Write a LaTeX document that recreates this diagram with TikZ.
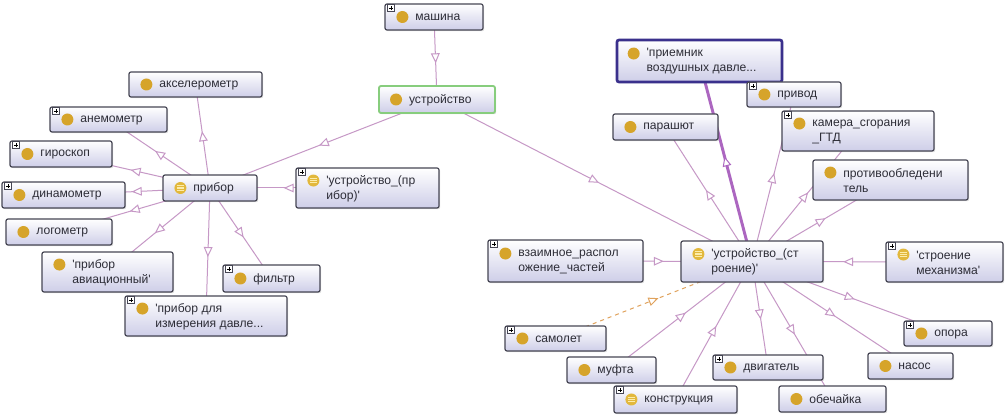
\documentclass[tikz,border=0pt]{standalone}
\usepackage{fontspec}
\setmainfont{Liberation Sans}
\usetikzlibrary{arrows.meta,decorations.markings,shadows}
\definecolor{edgecol}{RGB}{198,152,198}
\definecolor{thickcol}{RGB}{172,102,192}
\definecolor{dashcol}{RGB}{224,162,92}
\definecolor{boxline}{RGB}{70,70,84}
\definecolor{boxbot}{RGB}{206,206,232}
\definecolor{txtcol}{RGB}{45,45,55}
\definecolor{iconcol}{RGB}{214,164,42}
\definecolor{eqcol}{RGB}{226,184,60}
\definecolor{eqline}{RGB}{252,236,170}
\definecolor{greenb}{RGB}{135,205,125}
\definecolor{selb}{RGB}{58,48,140}
\pgfdeclarelayer{background}
\pgfsetlayers{background,main}
\newcommand{\q}{\textquotesingle}
\tikzset{
  clsbox/.style={rectangle, rounded corners=1.5pt, draw=boxline, line width=0.9pt,
    top color=white, bottom color=boxbot,
    drop shadow={opacity=0.25, shadow xshift=0.9pt, shadow yshift=-0.9pt}, inner sep=0pt},
  clstext/.style={anchor=west, inner sep=0pt, align=left, text=txtcol,
    font=\fontsize{9.1}{11.25}\selectfont},
  plainicon/.style={circle, fill=iconcol, minimum size=9pt, inner sep=0pt},
  eqicon/.style={circle, fill=eqcol, minimum size=9pt, inner sep=0pt,
    path picture={\foreach \yy in {-1.8pt,0pt,1.8pt}{\draw[eqline, line width=0.8pt]
      ([xshift=-2.6pt,yshift=\yy]path picture bounding box.center) --
      ([xshift=2.6pt,yshift=\yy]path picture bounding box.center);}}},
  plusbox/.style={rectangle, draw=boxline, fill=white, line width=0.4pt,
    minimum size=5pt, inner sep=0pt,
    path picture={\draw[black, line width=0.5pt]
      ([xshift=-1.6pt]path picture bounding box.center) -- ([xshift=1.6pt]path picture bounding box.center)
      ([yshift=-1.6pt]path picture bounding box.center) -- ([yshift=1.6pt]path picture bounding box.center);}},
  conn/.style={draw=edgecol, line width=0.75pt, postaction={decorate},
    decoration={markings, mark=at position 0.5 with
      {\pgftransformxshift{3.8pt}\arrow{Triangle[length=7.5pt,width=6.5pt,fill=white,line width=0.75pt]}}}},
  thickconn/.style={conn, draw=thickcol, line width=2.2pt},
  dashconn/.style={conn, draw=dashcol, dashed},
  greenbox/.style={draw=greenb, line width=1.4pt},
  selbox/.style={draw=selb, line width=2pt}
}
% #1 style, #2 name, #3 x1, #4 y1, #5 x2, #6 y2, #7 text, #8 icon lift, #9 icon style
\newcommand{\ontobox}[9][]{%
  \node[clsbox,#1,minimum width={(#5-#3)*0.75pt},minimum height={(#6-#4)*0.75pt}] (#2) at ({(#3+#5)/2},{(#4+#6)/2}) {};
  \node[#9] (#2-i) at ([xshift=13.5pt,yshift=#8]#2.west) {};
  \node[clstext] (#2-t) at ([xshift=23pt,yshift=-0.4pt]#2.west) {#7};
}
\newcommand{\plusmark}[1]{\node[plusbox] (#1-p) at ([xshift=4.9pt,yshift=-3.4pt]#1.north west) {};}
\begin{document}
\begin{tikzpicture}[x=0.75pt,y=-0.75pt]
\begin{pgfonlayer}{background}
\fill[white] (0,0) rectangle (1007,416);
\end{pgfonlayer}
\useasboundingbox (0,0) rectangle (1007,416);
% left cluster
\ontobox{akc}{129}{72}{262}{97}{акселерометр}{0pt}{plainicon}
\ontobox{anem}{50}{107}{167}{132}{анемометр}{0pt}{plainicon}\plusmark{anem}
\ontobox{giro}{10}{141}{112}{167}{гироскоп}{0pt}{plainicon}\plusmark{giro}
\ontobox{dinam}{2}{182}{125}{208}{динамометр}{0pt}{plainicon}\plusmark{dinam}
\ontobox{logo}{6}{219}{112}{245}{логометр}{0pt}{plainicon}
\ontobox{pribor}{163}{175}{257}{201}{прибор}{0pt}{eqicon}
\ontobox{avia}{42}{252}{173}{292}{\q прибор\\авиационный\q}{5.6pt}{plainicon}
\ontobox{filtr}{223}{265}{320}{292}{фильтр}{0pt}{plainicon}\plusmark{filtr}
\ontobox{izm}{125}{296}{287}{336}{\q прибор для\\измерения давле...}{5.6pt}{plainicon}\plusmark{izm}
\ontobox{ustpr}{296}{168}{439}{208}{\q устройство\_(пр\\ибор)\q}{5.6pt}{eqicon}\plusmark{ustpr}
% center
\ontobox{mash}{385}{4}{483}{30}{машина}{0pt}{plainicon}\plusmark{mash}
\ontobox[greenbox]{ustr}{379}{86}{495}{113}{устройство}{0pt}{plainicon}
% right cluster
\ontobox[selbox]{priem}{617}{40}{782}{82}{\q приемник\\воздушных давле...}{5.6pt}{plainicon}
\ontobox{privod}{747}{82}{841}{107}{привод}{0pt}{plainicon}\plusmark{privod}
\ontobox{kamera}{782}{111}{934}{151}{камера\_сгорания\\\_ГТД}{5.6pt}{plainicon}\plusmark{kamera}
\ontobox{protiv}{813}{160}{968}{200}{противообледени\\тель}{5.6pt}{plainicon}
\ontobox{stroen}{886}{242}{1003}{282}{\q строение\\механизма\q}{5.6pt}{eqicon}\plusmark{stroen}
\ontobox{parash}{613}{114}{718}{140}{парашют}{0pt}{plainicon}
\ontobox{ustst}{681}{241}{823}{282}{\q устройство\_(ст\\роение)\q}{5.6pt}{eqicon}
\ontobox{vzaim}{488}{240}{643}{282}{взаимное\_распол\\ожение\_частей}{5.6pt}{plainicon}\plusmark{vzaim}
\ontobox{samolet}{505}{326}{606}{351}{самолет}{0pt}{plainicon}\plusmark{samolet}
\ontobox{mufta}{567}{357}{656}{383}{муфта}{0pt}{plainicon}
\ontobox{konstr}{614}{386}{737}{413}{конструкция}{0pt}{eqicon}\plusmark{konstr}
\ontobox{dvig}{713}{355}{823}{380}{двигатель}{0pt}{plainicon}\plusmark{dvig}
\ontobox{obech}{779}{386}{886}{412}{обечайка}{0pt}{plainicon}
\ontobox{nasos}{868}{353}{953}{379}{насос}{0pt}{plainicon}
\ontobox{opora}{904}{321}{992}{346}{опора}{0pt}{plainicon}\plusmark{opora}
% connectors
\begin{pgfonlayer}{background}
\draw[conn] (mash.center) -- (ustr.center);
\draw[conn] (ustr.center) -- (pribor.center);
\draw[conn] (ustr.center) -- (ustst.center);
\draw[conn] (pribor.center) -- (akc.center);
\draw[conn] (pribor.center) -- (anem.center);
\draw[conn] (pribor.center) -- (giro.center);
\draw[conn] (pribor.center) -- (dinam.center);
\draw[conn] (pribor.center) -- (logo.center);
\draw[conn] (pribor.center) -- (avia.center);
\draw[conn] (pribor.center) -- (izm.center);
\draw[conn] (pribor.center) -- (filtr.center);
\draw[conn] (ustpr.center) -- (pribor.center);
\draw[thickconn] (ustst.center) -- (priem.center);
\draw[conn] (ustst.center) -- (parash.center);
\draw[conn] (ustst.center) -- (privod.center);
\draw[conn] (ustst.center) -- (kamera.center);
\draw[conn] (ustst.center) -- (protiv.center);
\draw[conn] (stroen.center) -- (ustst.center);
\draw[conn] (vzaim.center) -- (ustst.center);
\draw[dashconn] (samolet.center) -- (ustst.center);
\draw[conn] (mufta.center) -- (ustst.center);
\draw[conn] (konstr.center) -- (ustst.center);
\draw[conn] (ustst.center) -- (dvig.center);
\draw[conn] (ustst.center) -- (obech.center);
\draw[conn] (ustst.center) -- (nasos.center);
\draw[conn] (ustst.center) -- (opora.center);
\end{pgfonlayer}
\end{tikzpicture}
\end{document}
